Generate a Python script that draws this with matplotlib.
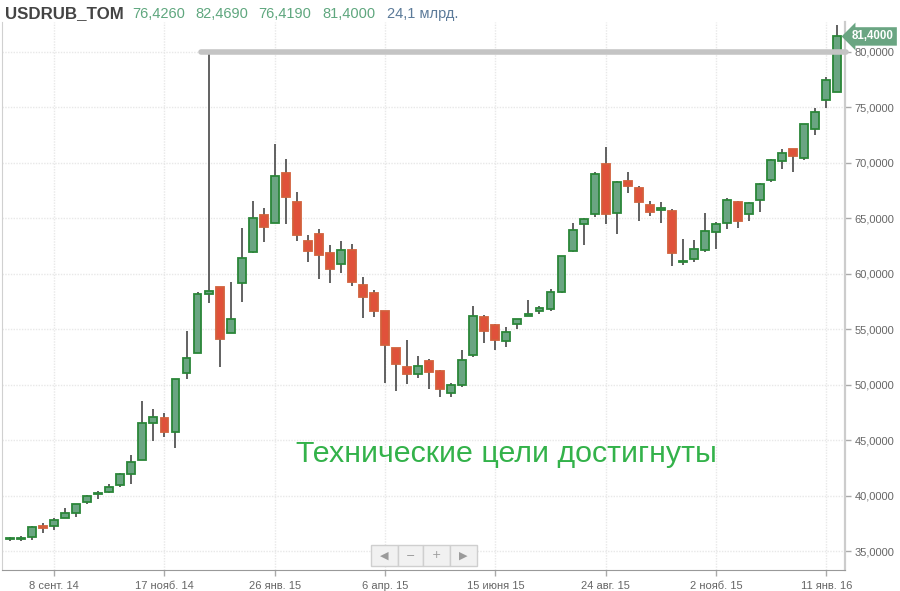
import numpy as np
import pandas as pd
import matplotlib
matplotlib.use("Agg")
import matplotlib.pyplot as plt
import matplotlib.dates as mdates
from matplotlib.patches import Rectangle

plt.rcParams['font.family'] = ['Liberation Sans', 'DejaVu Sans']

# weekly candles, USDRUB_TOM
dates = pd.date_range("2014-08-11", periods=76, freq="7D")

opens = [36.10, 36.12, 36.30, 37.30, 37.25, 38.05, 38.50, 39.45, 40.15, 40.40,
         41.00, 41.95, 43.20, 46.60, 47.00, 45.75, 51.05, 52.90, 58.20, 58.80,
         54.72, 59.22, 61.98, 65.32, 64.63, 69.07, 66.46, 62.95, 63.63, 61.86,
         60.93, 62.19, 59.04, 58.29, 56.67, 53.30, 51.60, 50.99, 52.13, 51.26,
         49.25, 49.97, 52.67, 56.13, 55.41, 53.99, 55.50, 56.22, 56.67, 56.85,
         58.35, 62.07, 64.48, 65.41, 69.91, 65.50, 68.38, 67.72, 66.19, 65.74,
         65.68, 61.05, 61.32, 62.16, 63.78, 64.57, 66.52, 65.38, 66.67, 68.47,
         70.21, 71.26, 70.42, 73.06, 75.68, 76.426]
highs = [36.30, 36.40, 37.25, 37.55, 38.00, 38.90, 39.30, 40.05, 40.45, 41.10,
         42.05, 43.65, 48.55, 47.80, 47.50, 50.55, 54.86, 58.40, 80.10, 58.85,
         59.30, 64.10, 66.58, 65.97, 71.71, 70.33, 67.36, 63.49, 64.05, 62.61,
         62.95, 62.67, 59.73, 58.56, 56.70, 53.32, 54.05, 52.58, 52.31, 51.35,
         50.21, 53.15, 57.15, 56.31, 55.50, 55.25, 55.92, 57.66, 57.12, 58.65,
         61.62, 64.57, 65.07, 69.22, 71.47, 68.40, 69.16, 67.90, 66.60, 66.52,
         65.85, 63.15, 63.06, 65.47, 64.68, 66.88, 66.60, 66.45, 68.23, 70.35,
         71.26, 71.30, 73.50, 74.93, 77.72, 82.469]
lows = [35.95, 35.95, 36.00, 36.70, 36.90, 38.00, 38.10, 39.30, 39.70, 40.30,
        40.85, 41.10, 43.20, 44.95, 45.30, 44.35, 50.50, 52.85, 57.40, 51.65,
        54.66, 57.50, 61.92, 62.86, 64.57, 64.48, 62.95, 61.05, 59.55, 59.22,
        60.06, 58.95, 56.01, 56.15, 50.21, 49.46, 50.06, 50.66, 49.62, 48.89,
        48.95, 49.79, 52.50, 53.76, 53.15, 53.40, 55.02, 56.22, 56.40, 56.67,
        58.25, 61.99, 62.61, 65.10, 64.48, 63.60, 67.27, 64.80, 65.26, 64.63,
        60.72, 60.81, 61.05, 62.01, 62.22, 64.03, 64.17, 64.77, 65.62, 68.30,
        69.46, 69.19, 70.27, 72.52, 74.93, 76.419]
closes = [36.15, 36.18, 37.20, 37.10, 37.80, 38.45, 39.25, 40.00, 40.30, 40.80,
          41.95, 43.05, 46.60, 47.15, 45.80, 50.50, 52.46, 58.17, 58.44, 54.12,
          55.92, 61.44, 65.07, 64.26, 68.80, 66.90, 63.54, 62.10, 61.68, 60.48,
          62.19, 59.31, 57.96, 56.67, 53.60, 51.92, 50.99, 51.71, 51.14, 49.64,
          49.97, 52.25, 56.19, 54.90, 54.05, 54.75, 55.92, 56.37, 56.94, 58.35,
          61.62, 64.00, 64.93, 69.00, 65.38, 68.32, 67.96, 66.52, 65.56, 65.90,
          61.92, 61.17, 62.28, 63.90, 64.48, 66.70, 64.80, 66.37, 68.08, 70.27,
          70.87, 70.63, 73.49, 74.57, 77.45, 81.40]

target_level = 80.0
last_price = 81.40

tick_dates = ["2014-09-08", "2014-11-17", "2015-01-26", "2015-04-06",
              "2015-06-15", "2015-08-24", "2015-11-02", "2016-01-11"]
tick_labels = ["8 сент. 14", "17 нояб. 14", "26 янв. 15", "6 апр. 15",
               "15 июня 15", "24 авг. 15", "2 нояб. 15", "11 янв. 16"]
y_ticks = [35, 40, 45, 50, 55, 60, 65, 70, 75, 80]

W, H = 900, 591


def fx(x):
    return x / W


def fy(y):
    return 1 - y / H


fig = plt.figure(figsize=(9, 5.91), dpi=100)
ax = fig.add_axes([fx(2), fy(570), fx(845) - fx(2), fy(22) - fy(570)])

x = mdates.date2num(dates)
width = 5.0

g_fill, g_edge = '#6aa582', '#2a8638'
r_fill, r_edge = '#e0513a', '#d2603c'

for xi, o, h, l, c in zip(x, opens, highs, lows, closes):
    up = c >= o
    ax.vlines(xi, l, h, color='#555555', lw=1.3, zorder=2)
    lo, hi = min(o, c), max(o, c)
    ax.add_patch(Rectangle((xi - width / 2, lo), width, max(hi - lo, 0.12),
                           facecolor=g_fill if up else r_fill,
                           edgecolor=g_edge if up else r_edge, lw=1.3, zorder=3))

xmin = x[0] - 0.73 * 7
xmax = x[-1] + 0.7 * 7
ax.set_xlim(xmin, xmax)
ax.set_ylim(33.33, 82.7)

# target level line
ax.plot([x[18] - 5.0, xmax + 0.1 * 7], [target_level, target_level],
        color='#c4c4c4', lw=4, solid_capstyle='round', zorder=4, clip_on=False)

ax.set_xticks(mdates.date2num(pd.to_datetime(tick_dates)))
ax.set_xticklabels(tick_labels)
ax.set_yticks(y_ticks)
ax.set_yticklabels([f"{v:.4f}".replace('.', ',') for v in y_ticks])
ax.yaxis.tick_right()
ax.tick_params(axis='both', colors='#aaaaaa', labelcolor='#666666',
               labelsize=8, length=4, width=1)
ax.tick_params(axis='y', pad=3)
ax.tick_params(axis='x', pad=4)
ax.grid(True, color='#e8e8e8', lw=1, ls=(0, (1, 1)))
ax.set_axisbelow(True)

ax.spines['top'].set_visible(False)
ax.spines['left'].set_color('#d0d0d0')
ax.spines['right'].set_color('#cccccc')
ax.spines['right'].set_linewidth(1.6)
ax.spines['bottom'].set_color('#999999')

# last price marker
ax.text(1.008, last_price, f"{last_price:.4f}".replace('.', ','),
        transform=ax.get_yaxis_transform(), ha='left', va='center',
        fontsize=8.3, fontweight='bold', color='white', zorder=6,
        bbox=dict(boxstyle='larrow,pad=0.28', fc='#6aa582', ec='none'),
        clip_on=False)

ax.text(x[45], 43.75, "Технические цели достигнуты", color='#33b24a',
        fontsize=21.9, ha='center', va='center')

# header
fig.text(fx(5), fy(14), "USDRUB_TOM", fontsize=12.2, fontweight='bold',
         color='#444444', va='center')
head_vals = ["76,4260", "82,4690", "76,4190", "81,4000"]
for xp, t in zip([132, 195, 258, 322], head_vals):
    fig.text(fx(xp), fy(14), t, fontsize=10.5, color='#5fa77e', va='center')
fig.text(fx(387), fy(14), "24,1 млрд.", fontsize=10.5, color='#5b7a99', va='center')

# navigator buttons
edges = [371, 398, 423, 450, 477]
glyphs = ['◀', '−', '+', '▶']
for i, gch in enumerate(glyphs):
    x0, x1 = edges[i], edges[i + 1]
    fig.add_artist(Rectangle((fx(x0), fy(566)), fx(x1 - x0), fy(545) - fy(566),
                             transform=fig.transFigure, fc='#f1f1f1',
                             ec='#cfcfcf', lw=1, zorder=5))
    fig.text(fx((x0 + x1) / 2), fy(555.5), gch, ha='center', va='center',
             fontsize=8, color='#9a9a9a', family='DejaVu Sans', zorder=6)

fig.savefig("out.png", dpi=100)
